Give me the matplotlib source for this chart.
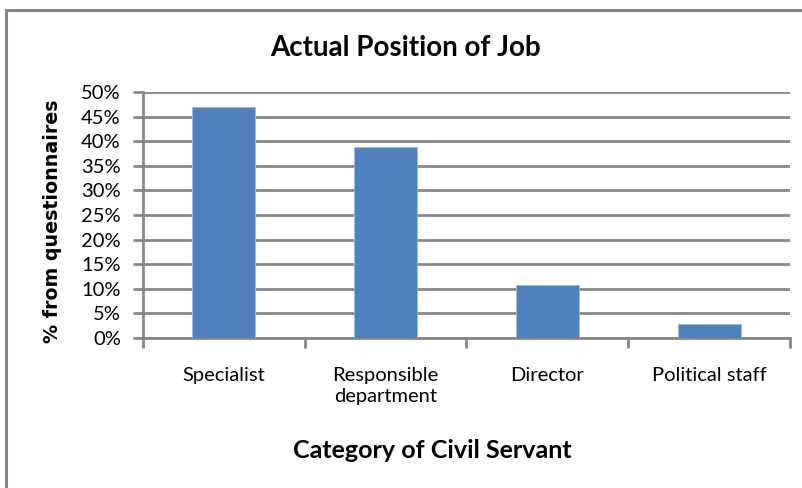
import matplotlib.pyplot as plt
from matplotlib.patches import Rectangle

categories = ['Specialist', 'Responsible\ndepartment', 'Director', 'Political staff']
values = [47.0, 38.9, 10.7, 2.9]
yticks = [0, 5, 10, 15, 20, 25, 30, 35, 40, 45, 50]

W, H = 803, 488
fig = plt.figure(figsize=(W / 100, H / 100), dpi=100)

# outer chart frame (only top and left edges visible)
fig.patches.append(Rectangle((6.5 / W, -0.1), 1.2, 1 - 9.5 / H + 0.1, transform=fig.transFigure,
                             fill=False, edgecolor='#878787', linewidth=2.2))

ax = fig.add_axes([143 / W, 1 - 338 / H, (790 - 143) / W, (338 - 92) / H])
grid = '#878787'

x = range(len(categories))
ax.bar(x, values, width=0.39, color='#4F81BD', edgecolor='#9DB9DE', linewidth=0.6, zorder=3)

ax.set_xlim(-0.5, len(categories) - 0.5)
ax.set_ylim(0, 50)
ax.set_yticks(yticks)
ax.set_yticklabels([f'{v}%' for v in yticks], fontname='Lato', fontsize=14.5)
ax.yaxis.grid(True, color=grid, linewidth=2, zorder=0)

ax.set_xticks([i - 0.5 for i in range(len(categories) + 1)])
ax.set_xticklabels([])
ax.set_xticks(list(x), minor=True)
ax.set_xticklabels(categories, minor=True, fontname='Lato', fontsize=14.5, linespacing=1.25, va='top')
ax.tick_params(axis='x', which='minor', length=0, pad=21)
ax.tick_params(axis='x', which='major', length=7, width=2, color=grid, direction='out')
ax.tick_params(axis='y', length=7, width=2, color=grid, pad=9)

for s in ['top', 'right']:
    ax.spines[s].set_visible(False)
for s in ['left', 'bottom']:
    ax.spines[s].set_color(grid)
    ax.spines[s].set_linewidth(2)

fig.text(406 / W, 1 - 48 / H, 'Actual Position of Job', ha='center', va='center',
         fontname='Lato', fontweight='bold', fontsize=20)
fig.text(432 / W, 1 - 450 / H, 'Category of Civil Servant', ha='center', va='center',
         fontname='Lato', fontweight='bold', fontsize=18)
fig.text(53 / W, 1 - 221 / H, '% from questionnaires', ha='center', va='center', rotation=90,
         fontname='DejaVu Sans', fontweight='bold', fontsize=13.7)

fig.savefig('out.png', dpi=100)
